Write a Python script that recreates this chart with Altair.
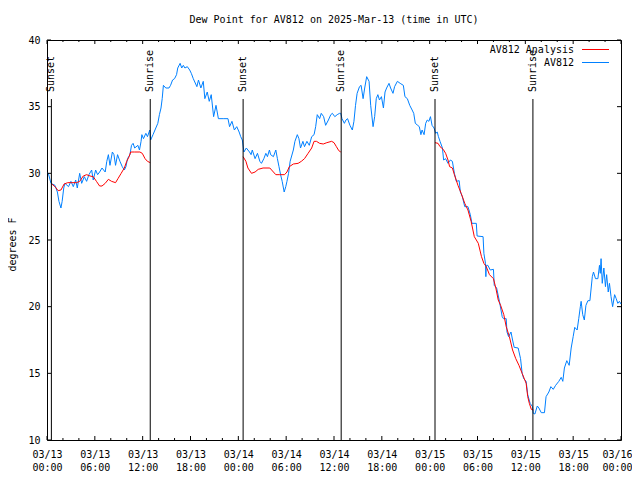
import json
import altair as alt
import pandas as pd

FONT = "DejaVu Sans Mono"
BLUE = "#0080ff"
RED = "#ff0000"

title_text = "Dew Point for AV812 on 2025-Mar-13 (time in UTC)"
y_title = "degrees F"

# Observed dew point (hours since 03/13 00:00 UTC, degrees F)
blue_hours = [
    0.0, 0.17, 0.5, 1.0, 1.3, 1.5, 1.75, 1.9, 2.1, 2.25, 2.7, 3.0, 3.3, 3.6, 3.8, 4.1, 4.35, 4.68, 4.97,
    5.26, 5.6, 5.8, 6.1, 6.35, 6.6, 6.9, 7.3, 7.5, 7.7, 7.9, 8.2, 8.4, 8.6, 8.85, 9.15, 9.44, 9.7, 9.9,
    10.1, 10.4, 10.6, 10.8, 11.0, 11.4, 11.6, 11.8, 11.9, 12.1, 12.4, 12.6, 12.9, 13.0, 13.3, 13.65, 13.9,
    14.1, 14.3, 14.45, 14.6, 14.9, 15.3, 15.5, 15.75, 16.0, 16.25, 16.4, 16.7, 16.9, 17.1, 17.3, 17.6,
    17.9, 18.1, 18.35, 18.8, 19.0, 19.3, 19.6, 19.8, 20.1, 20.35, 20.6, 20.9, 21.2, 21.5, 22.1, 22.7,
    22.9, 23.2, 23.5, 23.8, 24.1, 24.3, 24.5, 24.7, 25.0, 25.4, 25.6, 25.75, 26.1, 26.4, 26.7, 26.9,
    27.2, 27.45, 27.65, 27.9, 28.05, 28.4, 28.7, 28.9, 29.1, 29.3, 29.5, 29.75, 29.95, 30.1, 30.3, 30.5,
    30.9, 31.1, 31.4, 31.6, 31.8, 32.1, 32.3, 32.6, 32.9, 33.2, 33.5, 33.7, 33.9, 34.2, 34.4, 34.7,
    34.95, 35.3, 35.6, 35.8, 36.1, 36.4, 36.7, 36.85, 37.0, 37.3, 37.5, 37.7, 38.0, 38.3, 38.5, 38.7,
    38.9, 39.2, 39.4, 39.65, 39.85, 40.1, 40.4, 40.6, 40.9, 41.1, 41.3, 41.5, 41.7, 41.95, 42.2, 42.4,
    42.6, 42.9, 43.1, 43.4, 43.6, 43.95, 44.3, 44.7, 44.9, 45.2, 45.5, 45.8, 46.0, 46.2, 46.5, 46.7,
    46.9, 47.05, 47.3, 47.5, 47.7, 47.9, 48.1, 48.3, 48.55, 48.75, 48.95, 49.1, 49.3, 49.6, 49.75,
    50.0, 50.3, 50.6, 50.85, 51.1, 51.35, 51.7, 51.85, 52.1, 52.4, 52.8, 53.1, 53.3, 53.85, 53.95,
    54.7, 54.8, 55.0, 55.05, 55.1, 55.3, 55.6, 56.0, 56.1, 56.4, 56.75, 57.1, 57.25, 57.6, 57.7, 57.9,
    58.2, 58.4, 58.6, 59.1, 59.4, 59.6, 59.8, 60.1, 60.3, 60.6, 60.9, 61.0, 61.2, 61.5, 61.7, 62.0,
    62.4, 62.6, 62.95, 63.2, 63.5, 63.8, 64.2, 64.5, 64.7, 64.9, 65.2, 65.5, 65.75, 66.0, 66.2, 66.5,
    66.7, 66.9, 67.0, 67.2, 67.4, 67.6, 67.85, 68.1, 68.4, 68.55, 68.8, 69.1, 69.3, 69.4, 69.5, 69.65,
    69.85, 70.05, 70.2, 70.4, 70.55, 70.75, 70.95, 71.2, 71.4, 71.6, 71.8, 72.0,
]
blue_values = [
    30.0, 30.0, 29.25, 29.1, 28.6, 27.9, 27.4, 27.9, 28.9, 29.25, 29.0, 29.4, 29.0, 29.5, 28.9, 30.0, 29.25, 29.75, 29.4,
    29.9, 30.25, 29.5, 30.25, 29.9, 30.1, 30.4, 30.1, 30.9, 31.4, 30.6, 31.6, 31.4, 30.6, 31.4, 30.9, 30.5, 30.25, 30.5,
    31.1, 31.4, 32.1, 32.25, 31.9, 32.1, 31.75, 32.4, 32.9, 32.6, 33.0, 32.75, 33.25, 32.5, 32.9, 33.4, 33.75,
    34.4, 34.9, 35.6, 36.6, 36.4, 36.4, 36.6, 37.0, 37.1, 37.4, 37.9, 38.25, 37.9, 38.1, 37.9, 38.0,
    37.75, 37.5, 37.1, 36.5, 37.0, 36.4, 36.9, 35.6, 36.1, 35.4, 35.9, 34.25, 35.1, 34.1, 34.1, 34.1,
    33.5, 33.9, 33.25, 33.5, 33.1, 32.75, 32.5, 31.6, 31.9, 31.6, 31.4, 31.75, 31.1, 31.5, 30.9, 30.75,
    31.1, 31.5, 31.25, 31.75, 31.4, 31.25, 31.75, 31.1, 30.5, 29.9, 29.4, 28.6, 29.0, 29.4, 30.0, 30.9,
    31.75, 32.4, 32.9, 32.6, 31.9, 32.4, 32.0, 32.4, 32.1, 32.75, 32.9, 33.5, 34.4, 34.1, 34.5, 34.25,
    33.6, 34.0, 34.4, 34.5, 34.25, 34.4, 34.5, 34.5, 34.1, 33.75, 34.0, 34.1, 33.6, 33.25, 33.9, 35.1,
    36.0, 36.5, 36.6, 35.6, 36.4, 37.25, 36.9, 35.1, 33.5, 34.25, 35.6, 35.9, 35.5, 35.75, 34.9, 36.1,
    36.4, 36.75, 36.4, 36.0, 36.5, 36.9, 36.75, 36.6, 35.75, 35.6, 35.1, 34.75, 34.5, 33.75, 33.6, 33.5,
    32.9, 33.25, 32.9, 33.75, 34.0, 33.9, 34.25, 33.6, 33.4, 33.0, 33.1, 32.75, 32.4, 31.9, 31.0,
    31.1, 30.75, 31.0, 30.9, 30.0, 29.4, 29.45, 28.6, 28.25, 27.5, 27.5, 26.9, 26.25, 26.25, 25.3,
    25.25, 24.0, 23.25, 22.25, 23.1, 23.1, 22.75, 22.8, 21.6, 21.4, 20.4, 19.25, 19.1, 19.1, 18.1, 17.75,
    18.1, 17.5, 16.95, 16.9, 16.1, 15.0, 14.6, 14.4, 13.4, 12.75, 12.5, 12.0, 11.95, 12.55, 12.4, 12.05,
    12.05, 13.25, 13.6, 14.0, 13.8, 14.1, 14.4, 14.7, 14.4, 15.4, 15.95, 15.6, 16.9, 17.75, 18.45, 18.25,
    19.1, 20.0, 20.4, 19.4, 19.0, 20.1, 20.45, 20.45, 22.25, 22.6, 22.1, 22.1, 23.1, 22.5, 23.6, 21.75,
    22.9, 21.5, 22.4, 21.1, 21.75, 20.75, 20.0, 20.9, 20.6, 20.25, 20.4, 20.2,
]

# Analysis (night-time segments only)
red1_hours = [0.6, 1.0, 1.4, 1.75, 2.15, 2.6, 3.1, 3.7, 4.1, 4.55, 4.97, 5.4, 5.8, 6.2, 6.6, 6.9, 7.3,
              7.7, 8.1, 8.6, 8.9, 9.3, 9.7, 10.0, 10.3, 10.5, 11.0, 11.65, 11.95, 12.3, 12.6, 12.95]
red1_values = [29.2, 29.0, 28.7, 28.75, 29.2, 29.3, 29.3, 29.3, 29.4, 29.8, 29.9, 29.8, 29.75, 29.4, 29.05,
               29.05, 29.25, 29.55, 29.4, 29.3, 29.6, 30.0, 30.4, 30.9, 31.25, 31.6, 31.6, 31.6, 31.5, 31.1,
               30.9, 30.8]
red2_hours = [24.6, 24.95, 25.2, 25.65, 26.1, 26.5, 27.1, 27.95, 28.4, 28.7, 29.2, 29.8, 30.1, 30.4, 30.9,
              31.5, 31.9, 32.3, 32.75, 33.2, 33.5, 33.8, 34.2, 34.65, 35.1, 35.7, 36.0, 36.3, 36.6, 36.85]
red2_values = [31.25, 30.9, 30.4, 30.0, 30.1, 30.3, 30.4, 30.4, 30.1, 29.9, 29.9, 29.9, 30.1, 30.5, 30.7,
               30.75, 30.9, 31.1, 31.5, 31.9, 32.4, 32.4, 32.25, 32.2, 32.3, 32.4, 32.3, 32.0, 31.7, 31.6]
red3_hours = [48.67, 49.05, 49.3, 49.7, 50.0, 50.3, 50.5, 50.85, 51.1, 51.55, 51.95, 52.4, 52.8, 53.2,
              53.6, 54.1, 54.5, 54.8, 55.1, 55.5, 56.0, 56.3, 56.6, 56.9, 57.3, 57.6, 58.0, 58.4, 58.8,
              59.2, 59.6, 60.1, 60.3, 60.5, 60.75, 61.0]
red3_values = [32.3, 32.25, 32.0, 31.8, 31.5, 31.0, 30.5, 30.4, 29.9, 29.1, 28.5, 27.75, 27.25, 26.4,
               25.25, 24.75, 23.75, 23.25, 23.0, 22.4, 22.1, 21.4, 20.5, 20.1, 19.4, 18.5, 17.75, 16.75,
               16.1, 15.6, 15.0, 14.25, 13.25, 12.75, 12.3, 12.25]

sun_hours = [0.55, 12.95, 24.6, 36.9, 48.67, 60.95]
sun_labels = ["Sunset", "Sunrise", "Sunset", "Sunrise", "Sunset", "Sunrise"]

tick_hours = [0, 6, 12, 18, 24, 30, 36, 42, 48, 54, 60, 66, 72]
tick_dates = ["03/13", "03/13", "03/13", "03/13", "03/14", "03/14", "03/14", "03/14",
              "03/15", "03/15", "03/15", "03/15", "03/16"]
tick_times = ["00:00", "06:00", "12:00", "18:00", "00:00", "06:00", "12:00", "18:00",
              "00:00", "06:00", "12:00", "18:00", "00:00"]
minor_hours = [2, 4, 8, 10, 14, 16, 20, 22, 26, 28, 32, 34, 38, 40, 44, 46, 50, 52, 56, 58, 62, 64, 68, 70]
y_ticks = [10, 15, 20, 25, 30, 35, 40]

legend_names = ["AV812 Analysis", "AV812"]
legend_colors = [RED, BLUE]

W, H = 574, 400

df_blue = pd.DataFrame({"h": blue_hours, "v": blue_values})
df_red = pd.DataFrame({
    "h": red1_hours + red2_hours + red3_hours,
    "v": red1_values + red2_values + red3_values,
    "seg": ["a"] * len(red1_hours) + ["b"] * len(red2_hours) + ["c"] * len(red3_hours),
})
df_sun = pd.DataFrame({"h": sun_hours, "label": sun_labels})
df_major = pd.DataFrame({"h": tick_hours})
df_minor = pd.DataFrame({"h": minor_hours})
df_yt = pd.DataFrame({"v": y_ticks})

x_scale = alt.Scale(domain=[0, 72], nice=False, zero=False)
y_scale = alt.Scale(domain=[10, 40], nice=False, zero=False)

last_tick = tick_hours[-1]
label_pairs = json.dumps([[d, t] for d, t in zip(tick_dates, tick_times)])
x_axis = alt.Axis(
    values=tick_hours, title=None, ticks=False, domain=False, grid=False,
    labelExpr=f"{label_pairs}[round(datum.value / 6)]",
    labelPadding=9, labelLineHeight=13, labelBaseline="top", labelFlush=False,
    labelAlign={"condition": {"test": f"datum.value == {last_tick}", "value": "right"}, "value": "center"},
    labelOffset={"condition": {"test": f"datum.value == {last_tick}", "value": 11}, "value": 0},
)
y_axis = alt.Axis(
    values=y_ticks, title=y_title, ticks=False, domain=False, grid=False, format="d",
    labelPadding=7, titleX=-34.5, titleY=H / 2 + 4, titleBaseline="middle", titleAngle=270,
    titleFontWeight="normal", titleFontSize=10, titleFont=FONT, titleColor="black",
)

X = alt.X("h:Q", scale=x_scale, axis=x_axis)
Y = alt.Y("v:Q", scale=y_scale, axis=y_axis)

blue_line = alt.Chart(df_blue).mark_line(color=BLUE, strokeWidth=1).encode(x=X, y=Y)
red_line = alt.Chart(df_red).mark_line(color=RED, strokeWidth=1).encode(x=X, y=Y, detail="seg:N")
sun_rules = alt.Chart(df_sun).mark_rule(color="black", strokeWidth=1).encode(
    x=X, y=alt.value(59), y2=alt.value(H),
)
sun_text = alt.Chart(df_sun).mark_text(
    angle=270, align="left", baseline="middle", font=FONT, fontSize=10, color="black"
).encode(x=X, y=alt.value(52), text="label:N")


def xticks(df, y0, y1):
    return alt.Chart(df).mark_rule(color="black").encode(x=X, y=alt.value(y0), y2=alt.value(y1))


def yticks(df, x0, x1):
    return alt.Chart(df).mark_rule(color="black").encode(y=Y, x=alt.value(x0), x2=alt.value(x1))


ticks = [
    xticks(df_major, H, H - 4),
    xticks(df_major, 0, 4),
    xticks(df_minor, H, H - 2),
    xticks(df_minor, 0, 2),
    yticks(df_yt, 0, 4),
    yticks(df_yt, W, W - 4),
]

legend_layers = []
for i, (name, col) in enumerate(zip(legend_names, legend_colors)):
    ly = 9.5 + 13 * i
    ldf = pd.DataFrame({"name": [name]})
    legend_layers.append(alt.Chart(ldf).mark_text(
        align="right", baseline="middle", font=FONT, fontSize=10, color="black"
    ).encode(x=alt.value(527), y=alt.value(ly), text="name:N"))
    legend_layers.append(alt.Chart(ldf).mark_rule(color=col, strokeWidth=1).encode(
        x=alt.value(535), x2=alt.value(562), y=alt.value(ly)))

chart = alt.layer(
    blue_line, red_line, sun_rules, sun_text, *ticks, *legend_layers
).properties(
    width=W, height=H,
    title=alt.TitleParams(text=title_text, font=FONT, fontSize=10, fontWeight="normal",
                          anchor="middle", color="black", baseline="bottom", offset=0),
    autosize=alt.AutoSizeParams(type="none"),
    padding={"left": 39, "top": 32, "right": 11, "bottom": 32},
).configure_view(
    stroke="black", strokeWidth=1
).configure_axis(
    labelFont=FONT, labelFontSize=10, labelColor="black"
)

chart.save("out.html", embed_options={"renderer": "svg", "actions": False})
